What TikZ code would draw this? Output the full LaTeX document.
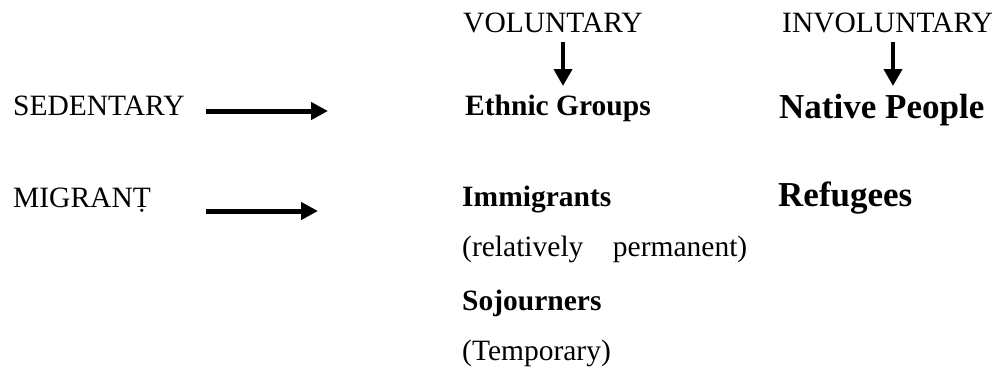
\documentclass[tikz,border=0pt]{standalone}
\usepackage{fontspec}
\setmainfont{Liberation Serif}
\usepackage{tikz}
\usetikzlibrary{arrows.meta, positioning}
\tikzset{
  lbl/.style={anchor=base west, inner sep=0pt, font=\fontsize{29.5}{34}\selectfont},
  grp/.style={lbl, font=\fontsize{29.5}{34}\selectfont\bfseries},
  biggrp/.style={lbl, font=\fontsize{35}{40}\selectfont\bfseries},
  harr/.style={-{Triangle[length=17pt, width=17pt]}, line width=5pt},
  varr/.style={-{Triangle[length=17pt, width=18pt]}, line width=4pt},
}

\begin{document}
\begin{tikzpicture}[x=1pt, y=-1pt]
  \useasboundingbox (0,0) rectangle (998,368);

  % column heads
  \node[lbl] (vol)   at (463,32) {VOLUNTARY};
  \node[lbl] (invol) at (782,32) {INVOLUNTARY};

  % row heads
  \node[lbl] (sed) at (13,115) {SEDENTARY};
  \node[lbl] (mig) at (13,207) {MIGRAN\d{T}};

  % groups
  \node[grp]    (eth)  at (465,115) {Ethnic Groups};
  \node[biggrp] (nat)  at (779,118) {Native People};
  \node[grp]    (imm)  at (462,206) {Immigrants};
  \node[lbl]    (perm) at (462,256) {(relatively\hspace{1.0em}permanent)};
  \node[grp]    (soj)  at (462,310) {Sojourners};
  \node[lbl]    (temp) at (462,360) {(Temporary)};
  \node[biggrp] (ref)  at (778,206) {Refugees};

  % arrow ends
  \coordinate (sedA) at (206,111);
  \coordinate (sedB) at (328,111);
  \coordinate (migA) at (206,211);
  \coordinate (migB) at (318,211);
  \coordinate (volA) at (563,42);
  \coordinate (volB) at (563,86);
  \coordinate (invA) at (893,42);
  \coordinate (invB) at (893,86);

  \draw[harr] (sedA) -- (sedB);
  \draw[harr] (migA) -- (migB);
  \draw[varr] (volA) -- (volB);
  \draw[varr] (invA) -- (invB);
\end{tikzpicture}
\end{document}
